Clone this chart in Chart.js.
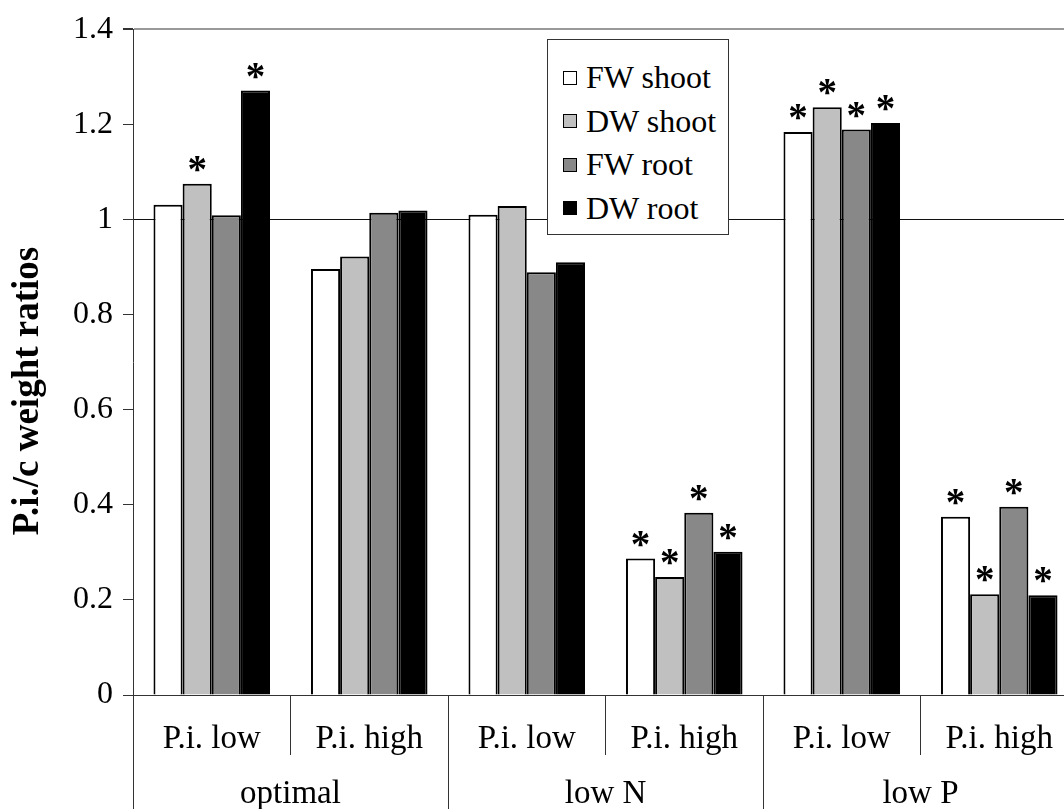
<!DOCTYPE html>
<html>
<head>
<meta charset="utf-8">
<script src="https://cdn.jsdelivr.net/npm/chart.js@4.4.0/dist/chart.umd.min.js"></script>
<style>
    html, body { margin: 0; padding: 0; background: #fff; overflow: hidden; }
    #wrap { position: relative; width: 1080px; height: 820px; }
    #legend {
        position: absolute; left: 547px; top: 39px; width: 182px; height: 196px;
        box-sizing: border-box; border: 1px solid #333; background: #fff;
        padding: 16px 0 0 15px;
        font-family: "Liberation Serif", "Times New Roman", serif; font-size: 32px; color: #000;
    }
    #legend .row { display: flex; align-items: center; height: 43.5px; white-space: nowrap; }
    #legend .sq { width: 14px; height: 14px; box-sizing: border-box; border: 1px solid #000; margin-right: 9px; }
</style>
</head>
<body>
<div id="wrap">
    <canvas id="chart" width="1080" height="820"></canvas>
    <div id="legend"></div>
</div>
<script>
// ----- DATOS ----- //
const SUB_LABELS = ["P.i. low", "P.i. high", "P.i. low", "P.i. high", "P.i. low", "P.i. high"];
const GROUP_LABELS = ["optimal", "low N", "low P"];
const SERIES_NAMES = ["FW shoot", "DW shoot", "FW root", "DW root"];
const SERIES_COLORS = ["#ffffff", "#c0c0c0", "#888888", "#000000"];
const Y_TITLE = "P.i./c weight ratios";

const FW_SHOOT = [1.031, 0.896, 1.010, 0.287, 1.184, 0.375];
const DW_SHOOT = [1.075, 0.922, 1.028, 0.248, 1.236, 0.212];
const FW_ROOT  = [1.009, 1.014, 0.889, 0.383, 1.189, 0.396];
const DW_ROOT  = [1.271, 1.019, 0.910, 0.301, 1.203, 0.210];

// asteriscos (diferencia significativa)
const FW_SHOOT_SIG = [0, 0, 0, 1, 1, 1];
const DW_SHOOT_SIG = [1, 0, 0, 1, 1, 1];
const FW_ROOT_SIG  = [0, 0, 0, 1, 1, 1];
const DW_ROOT_SIG  = [1, 0, 0, 1, 1, 1];

const SERIES = [FW_SHOOT, DW_SHOOT, FW_ROOT, DW_ROOT];
const SIGS = [FW_SHOOT_SIG, DW_SHOOT_SIG, FW_ROOT_SIG, DW_ROOT_SIG];

const FONT = '"Liberation Serif", "Times New Roman", serif';

// ----- LEYENDA (html) ----- //
let leg = "";
SERIES_NAMES.forEach((name, i) => {
    leg += `<div class="row"><span class="sq" style="background:${SERIES_COLORS[i]}"></span>${name}</div>`;
});
document.getElementById("legend").innerHTML = leg;

// ----- PLUGINS ----- //
const yTitle = {
    id: 'yTitle',
    afterDraw(chart) {
        const c = chart.ctx;
        c.save();
        c.translate(38, 391);
        c.rotate(-Math.PI / 2);
        c.font = 'bold 37px ' + FONT;
        c.fillStyle = '#000';
        c.textAlign = 'center';
        c.textBaseline = 'alphabetic';
        c.fillText(Y_TITLE, 0, 0);
        c.restore();
    }
};

const stars = {
    id: 'stars',
    afterDatasetsDraw(chart) {
        const c = chart.ctx;
        c.save();
        c.font = 'bold 39px ' + FONT;
        c.fillStyle = '#000';
        c.textAlign = 'center';
        c.textBaseline = 'alphabetic';
        SIGS.forEach((sig, i) => {
            const meta = chart.getDatasetMeta(i);
            sig.forEach((s, j) => {
                if (!s) return;
                const bar = meta.data[j];
                c.fillText('*', bar.x, bar.y - 2);
            });
        });
        c.restore();
    }
};

const isVal = (v, t) => Math.abs(v - t) < 1e-6;

new Chart(document.getElementById("chart").getContext("2d"), {
    type: 'bar',
    data: {
        labels: SUB_LABELS,
        datasets: SERIES.map((vals, i) => ({
            label: SERIES_NAMES[i],
            data: vals,
            backgroundColor: SERIES_COLORS[i],
            borderColor: '#000',
            borderWidth: 2,
            categoryPercentage: 0.74,
            barPercentage: 1.0
        }))
    },
    options: {
        responsive: false,
        animation: false,
        devicePixelRatio: 1,
        layout: { padding: { top: 23, left: 0, right: 2, bottom: 0 } },
        plugins: { legend: { display: false }, tooltip: { enabled: false } },
        scales: {
            y: {
                min: 0, max: 1.4,
                ticks: {
                    stepSize: 0.2, font: { family: FONT, size: 32 }, color: '#000', padding: 10,
                    callback: v => String(+v.toFixed(1))
                },
                grid: {
                    color: ctx => isVal(ctx.tick.value, 1) ? '#111' : (isVal(ctx.tick.value, 1.4) ? '#999' : 'rgba(0,0,0,0)'),
                    lineWidth: ctx => isVal(ctx.tick.value, 1.4) ? 2 : 1,
                    tickColor: '#333',
                    tickLength: 10
                },
                border: { color: '#333', width: 1 },
                afterFit(s) { s.width = 133; }
            },
            // etiquetas P.i. low / P.i. high
            x: {
                weight: 1,
                offset: true,
                grid: { offset: true, drawOnChartArea: false, tickLength: 60, color: '#333', lineWidth: 1 },
                border: { color: '#333', width: 1 },
                ticks: { font: { family: FONT, size: 33 }, color: '#000', padding: -35, maxRotation: 0, autoSkip: false },
                afterFit(s) { s.height = 60; }
            },
            // etiquetas de tratamiento
            x2: {
                type: 'category',
                position: 'bottom',
                weight: 2,
                labels: GROUP_LABELS,
                offset: true,
                grid: { offset: true, drawOnChartArea: false, tickLength: 200, color: '#333', lineWidth: 1 },
                border: { display: false },
                ticks: { font: { family: FONT, size: 33 }, color: '#000', padding: -180, maxRotation: 0, autoSkip: false },
                afterFit(s) { s.height = 65; }
            }
        }
    },
    plugins: [yTitle, stars]
});
</script>
</body>
</html>
